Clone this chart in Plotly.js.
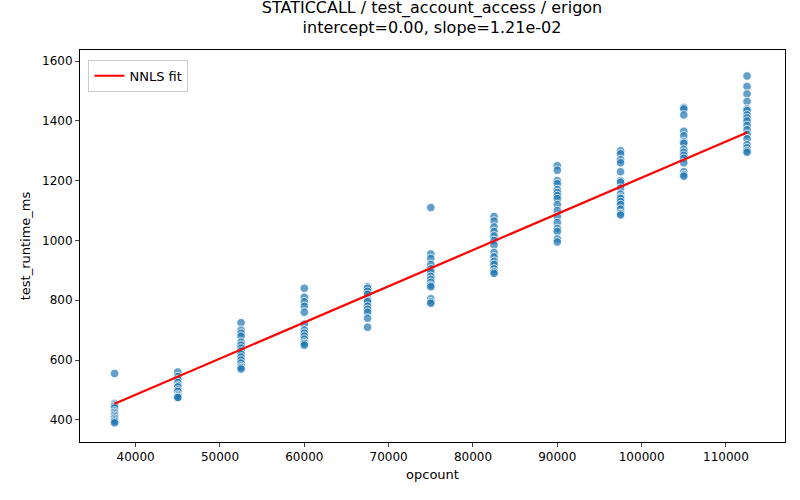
<!DOCTYPE html>
<html><head><meta charset="utf-8">
<script src="https://cdn.plot.ly/plotly-3.0.1.min.js"></script>
<style>body{margin:0}#chart{width:800px;height:500px}</style>
</head><body><div id="chart"></div>
<script>
const opcounts = [37500, 45000, 52500, 60000, 67500, 75000, 82500, 90000, 97500, 105000, 112500];
const runtimes = [
  [555,455,450,445,440,430,425,420,415,410,405,400,395,390],
  [560,545,535,525,515,510,500,495,485,480,475,475],
  [725,700,690,680,660,650,640,630,620,610,600,590,580,575,570],
  [840,810,795,780,760,720,700,690,680,670,660,655,650],
  [845,840,830,820,800,795,780,770,760,740,710],
  [1110,955,940,920,905,895,880,870,860,850,845,805,795,790],
  [1080,1065,1045,1030,1015,1000,985,960,945,930,920,905,895,890],
  [1250,1235,1200,1190,1170,1160,1150,1140,1120,1100,1080,1060,1040,1030,1005,995],
  [1300,1290,1270,1260,1230,1200,1195,1175,1155,1145,1140,1130,1120,1105,1090,1085],
  [1445,1440,1420,1365,1350,1330,1325,1305,1295,1285,1275,1260,1230,1220,1215],
  [1550,1515,1490,1465,1440,1435,1420,1410,1400,1385,1370,1355,1340,1320,1310,1300,1295]
];
const intercept = 0.0;
const slope = 1.21e-2;

const xs = [], ys = [];
opcounts.forEach((x, i) => runtimes[i].forEach(y => { xs.push(x); ys.push(y); }));
const fitX = [opcounts[0], opcounts[opcounts.length - 1]];
const fitY = fitX.map(x => intercept + slope * x);

const axisStyle = {
  showgrid: false, zeroline: false, showline: true, mirror: true,
  linecolor: 'black', linewidth: 1, ticks: 'outside', ticklen: 4,
  tickformat: 'd', tickfont: {size: 12, color: 'black'}
};

Plotly.newPlot('chart', [
  {x: xs, y: ys, mode: 'markers', type: 'scatter', showlegend: false,
   marker: {color: 'rgba(31,119,180,0.7)', size: 8.5, line: {color: 'white', width: 0.8}}},
  {x: fitX, y: fitY, mode: 'lines', type: 'scatter', name: 'NNLS fit',
   line: {color: 'red', width: 2.2}}
], {
  width: 800, height: 500,
  font: {family: 'DejaVu Sans', color: 'black'},
  paper_bgcolor: 'white', plot_bgcolor: 'white',
  margin: {l: 80, r: 15, t: 50, b: 58},
  title: {text: 'STATICCALL / test_account_access / erigon<br>intercept=0.00, slope=1.21e-02',
          font: {size: 16}, x: 0.54, xanchor: 'center', yref: 'container', y: 0.975, yanchor: 'top',
          pad: {t: 0}},
  xaxis: Object.assign({}, axisStyle, {range: [33400, 117000], dtick: 10000,
          title: {text: 'opcount', font: {size: 13}, standoff: 6}}),
  yaxis: Object.assign({}, axisStyle, {range: [326, 1637], dtick: 200,
          title: {text: 'test_runtime_ms', font: {size: 13}, standoff: 8}}),
  legend: {x: 0.012, y: 0.975, xanchor: 'left', yanchor: 'top',
           bordercolor: '#ccc', borderwidth: 1, bgcolor: 'white', font: {size: 13}},
  showlegend: true
}, {displayModeBar: false});
</script></body></html>
